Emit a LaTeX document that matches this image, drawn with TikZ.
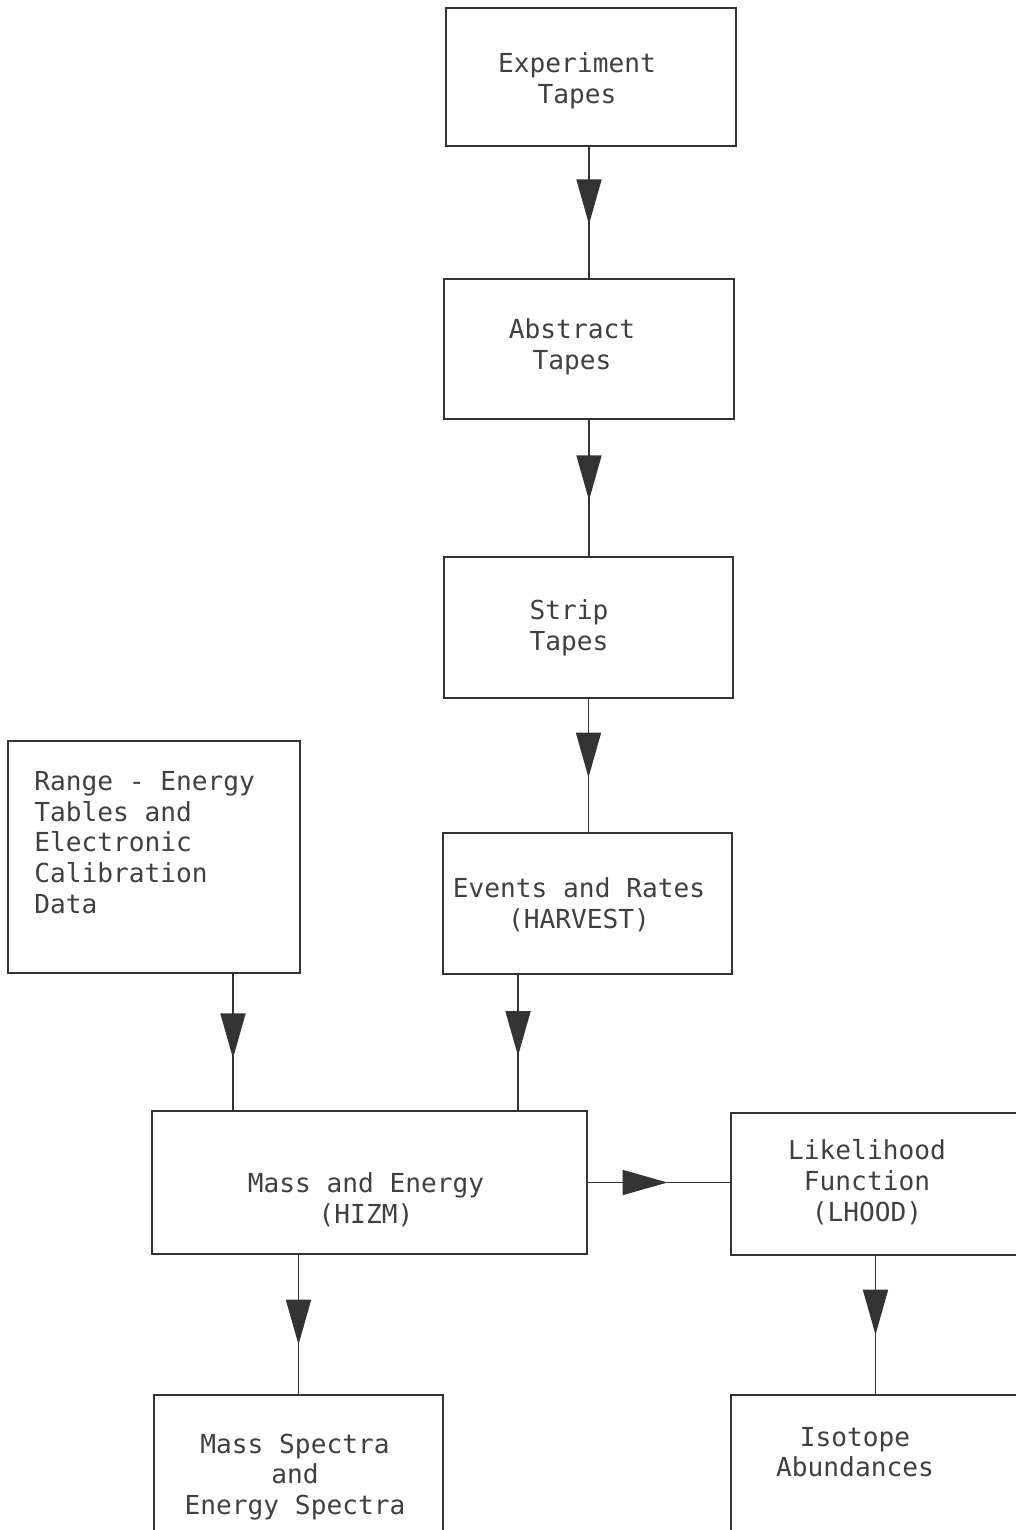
\documentclass[tikz,border=0pt]{standalone}
\usepackage{fontspec}
\setmonofont{DejaVu Sans Mono}
\usetikzlibrary{arrows.meta,decorations.markings}
\begin{document}
\begin{tikzpicture}[x=0.02cm,y=-0.02cm,
    box/.style={draw=black!80,line width=1pt,inner sep=0pt},
    txt/.style={font=\ttfamily\fontsize{14.9}{17.5}\selectfont,text=black!75,align=center,inner sep=0pt},
    flow/.style={draw=black!80,line width=1pt,postaction={decorate},
      decoration={markings,mark=at position #1 with {\arrow{Triangle[length=0.9cm,width=0.5cm]}}}},
    flow/.default=0.6]
  \useasboundingbox (0,0) rectangle (1016,1530);
  \clip (0,0) rectangle (1016,1530);
  % boxes
  \node[box,minimum width=5.8cm,minimum height=2.76cm] (exp) at (591,77) {};
  \node[box,minimum width=5.8cm,minimum height=2.8cm] (abs) at (589,349) {};
  \node[box,minimum width=5.78cm,minimum height=2.82cm] (strip) at (588.5,627.5) {};
  \node[box,minimum width=5.78cm,minimum height=2.82cm] (ev) at (587.5,903.5) {};
  \node[box,minimum width=5.84cm,minimum height=4.64cm] (range) at (154,857) {};
  \node[box,minimum width=8.7cm,minimum height=2.86cm] (mass) at (369.5,1182.5) {};
  \node[box,minimum width=5.78cm,minimum height=2.84cm] (lh) at (875.5,1184) {};
  \node[box,minimum width=5.78cm,minimum height=3.32cm] (spec) at (298.5,1478) {};
  \node[box,minimum width=5.78cm,minimum height=4cm] (iso) at (875.5,1495) {};
  % texts
  \node[txt] (exp-t) at (577,81) {Experiment\\Tapes};
  \node[txt] (abs-t) at (572,347) {Abstract\\Tapes};
  \node[txt] (strip-t) at (569,628) {Strip\\Tapes};
  \node[txt] (ev-t) at (579,905) {Events and Rates\\(HARVEST)};
  \node[txt,align=left,anchor=north west] (range-t) at (34,771)
    {Range - Energy\\Tables and\\Electronic\\Calibration\\Data};
  \node[txt] (mass-t) at (366,1200) {Mass and Energy\\(HIZM)};
  \node[txt] (lh-t) at (867,1182) {Likelihood\\Function\\(LHOOD)};
  \node[txt] (spec-t) at (295,1477) {Mass Spectra\\and\\Energy Spectra};
  \node[txt] (iso-t) at (855,1452) {Isotope\\Abundances};
  % connectors
  \draw[flow=0.59] (abs.north |- exp.south) -- (abs.north);
  \draw[flow=0.59] (abs.south) -- (abs.south |- strip.north);
  \draw[flow=0.59] (strip.south) -- (strip.south |- ev.north);
  \draw[flow=0.62] ([xshift=1.58cm]range.south) coordinate (r1) -- (r1 |- mass.north);
  \draw[flow=0.6] ([xshift=-1.39cm]ev.south) coordinate (e1) -- (e1 |- mass.north);
  \draw[flow=0.56] (mass.east) -- (mass.east -| lh.west);
  \draw[flow=0.645] (spec.north |- mass.south) -- (spec.north);
  \draw[flow=0.57] (lh.south) -- (lh.south |- iso.north);
\end{tikzpicture}
\end{document}
